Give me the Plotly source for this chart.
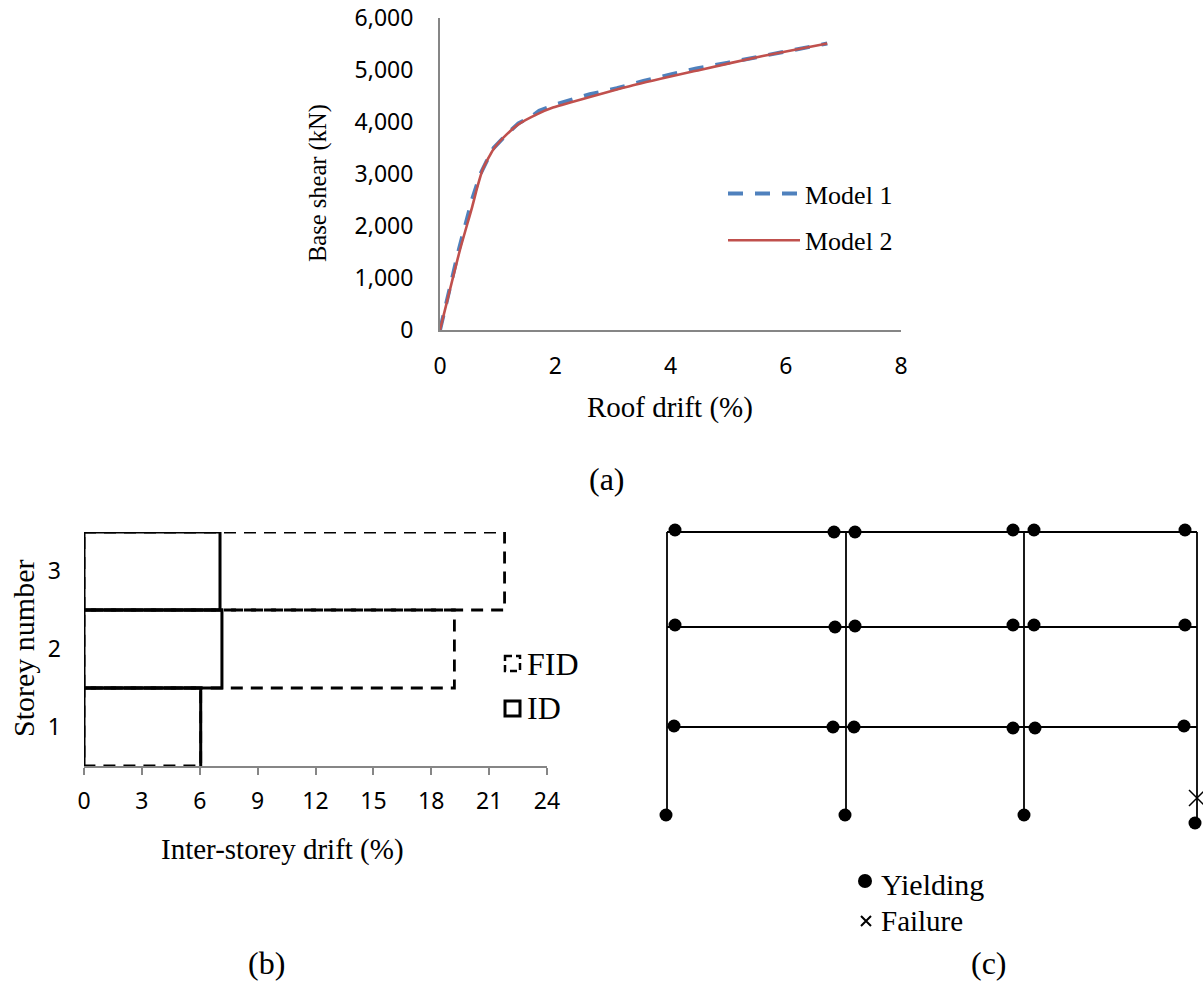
import plotly.graph_objects as go

W, H = 1203, 981
SERIF = "Liberation Serif"
SANS = "Noto Sans"
GREY = "#868686"

# Panel (a): pushover curves
drift_m1 = [0, 0.33, 0.56, 0.70, 0.81, 0.93, 1.186, 1.36, 1.56, 1.72, 2.02, 2.60, 3.07, 3.53, 4.02, 4.45, 5.00, 6.00, 6.72]
shear_m1 = [0, 1560, 2520, 3000, 3248, 3500, 3794, 3975, 4084, 4215, 4341, 4533, 4649, 4790, 4919, 5028, 5140, 5350, 5510]
drift_m2 = [0, 0.347, 0.561, 0.636, 0.74, 0.925, 1.10, 1.36, 1.68, 1.96, 2.26, 3.35, 4.51, 5.60, 6.72]
shear_m2 = [0, 1543, 2379, 2701, 3087, 3473, 3698, 3955, 4148, 4277, 4374, 4707, 5002, 5270, 5510]
drift_ticks = [0, 2, 4, 6, 8]
shear_ticks = [0, 1000, 2000, 3000, 4000, 5000, 6000]

# Panel (b): inter-storey drift
storeys = [1, 2, 3]
id_values = [6.05, 7.15, 7.05]
fid_values = [6.05, 19.2, 21.8]
isd_ticks = [0, 3, 6, 9, 12, 15, 18, 21, 24]

# Panel (c): frame and hinges (bay/storey drawing units)
col_x = [0, 17.9, 35.7, 53.0]
col_base = [0, 0, 0, -0.8]
level_y = [8.8, 18.8, 28.3]
hinge_x = [0.8, 16.7, 18.8, 34.6, 36.7, 51.8,
           0.8, 16.8, 18.8, 34.6, 36.7, 51.8,
           0.7, 16.6, 18.7, 34.6, 36.8, 51.7,
           -0.1, 17.8, 35.7, 52.8]
hinge_y = [28.5, 28.3, 28.3, 28.5, 28.5, 28.5,
           19.0, 18.8, 18.9, 19.0, 19.0, 19.0,
           8.9, 8.8, 8.8, 8.7, 8.7, 8.9,
           0, 0, 0, -0.8]
fail_x = [53.0]
fail_y = [1.7]
key_yield = ([19.8], [-6.6])
key_fail = ([19.9], [-10.6])


def px(x):
    return x / W


def py(y):
    return 1 - y / H


def outline(values, open_bottom=False):
    """Box outline per storey, from the axis out to the value."""
    xs, ys = [], []
    for s, v in zip(storeys, values):
        if open_bottom and s == storeys[0]:
            xs += [0, 0, v, v, None]
            ys += [s - 0.5, s + 0.5, s + 0.5, s - 0.5, None]
        else:
            xs += [0, v, v, 0, 0, None]
            ys += [s + 0.5, s + 0.5, s - 0.5, s - 0.5, s + 0.5, None]
    return xs, ys


fig = go.Figure()

# (a)
fig.add_trace(go.Scatter(x=drift_m1, y=shear_m1, mode="lines", name="Model 1", legendgroup="m1",
                         line=dict(color="#4f81bd", width=4, dash="15px,12px"), xaxis="x", yaxis="y"))
fig.add_trace(go.Scatter(x=drift_m2, y=shear_m2, mode="lines", name="Model 2", legendgroup="m2",
                         line=dict(color="#c0504d", width=2.6, shape="spline", smoothing=0.5), xaxis="x", yaxis="y"))

# (b)
fx, fy = outline(fid_values)
fig.add_trace(go.Scatter(x=fx, y=fy, mode="lines", name="FID", showlegend=False,
                         line=dict(color="black", width=2.8, dash="12px,8px"), xaxis="x2", yaxis="y2"))
ix, iy = outline(id_values, open_bottom=True)
fig.add_trace(go.Scatter(x=ix, y=iy, mode="lines", name="ID", showlegend=False,
                         line=dict(color="black", width=3), xaxis="x2", yaxis="y2"))

# (c)
for x, base in zip(col_x, col_base):
    fig.add_trace(go.Scatter(x=[x, x], y=[base, level_y[-1]], mode="lines", showlegend=False,
                             line=dict(color="black", width=1.8), xaxis="x3", yaxis="y3"))
for y in level_y:
    fig.add_trace(go.Scatter(x=[col_x[0], col_x[-1]], y=[y, y], mode="lines", showlegend=False,
                             line=dict(color="black", width=1.8), xaxis="x3", yaxis="y3"))
fig.add_trace(go.Scatter(x=hinge_x, y=hinge_y, mode="markers", name="Yielding", showlegend=False,
                         marker=dict(color="black", size=13), xaxis="x3", yaxis="y3"))
fig.add_trace(go.Scatter(x=fail_x, y=fail_y, mode="markers", name="Failure", showlegend=False, cliponaxis=False,
                         marker=dict(symbol="x-thin-open", color="black", size=16, line=dict(color="black", width=1.5)),
                         xaxis="x3", yaxis="y3"))
fig.add_trace(go.Scatter(x=key_yield[0], y=key_yield[1], mode="markers", showlegend=False,
                         marker=dict(color="black", size=14), xaxis="x3", yaxis="y3"))
fig.add_trace(go.Scatter(x=key_fail[0], y=key_fail[1], mode="markers", showlegend=False,
                         marker=dict(symbol="x-thin-open", color="black", size=10, line=dict(color="black", width=2)),
                         xaxis="x3", yaxis="y3"))


def note(text, x, y, size=29, angle=0, anchor="center"):
    return dict(text=text, x=px(x), y=py(y), xref="paper", yref="paper", showarrow=False,
                xanchor=anchor, yanchor="middle", textangle=angle,
                font=dict(family=SERIF, size=size, color="black"))


annotations = [
    note("(a)", 607, 479, size=32),
    note("(b)", 266, 963, size=32),
    note("(c)", 989, 963, size=32),
    note("Base shear (kN)", 318, 183, size=24.5, angle=-90),
    note("Roof drift (%)", 670, 407),
    note("Storey number", 23, 649, size=30, angle=-90),
    note("Inter-storey drift (%)", 282, 849),
    note("FID", 525, 664, size=32, anchor="left"),
    note("ID", 525, 708, size=32, anchor="left"),
    note("Yielding", 879, 884, size=30, anchor="left"),
    note("Failure", 879, 921, size=29, anchor="left"),
]

shapes = [
    dict(type="rect", xref="paper", yref="paper", x0=px(505), x1=px(520), y0=py(656), y1=py(671),
         line=dict(color="black", width=2.5, dash="7px,4px")),
    dict(type="rect", xref="paper", yref="paper", x0=px(505), x1=px(520), y0=py(701), y1=py(716),
         line=dict(color="black", width=3)),
]

tickfont = dict(family=SANS, size=23, color="black")

fig.update_layout(
    width=W, height=H, autosize=False,
    margin=dict(l=0, r=0, t=0, b=0),
    paper_bgcolor="white", plot_bgcolor="rgba(0,0,0,0)",
    annotations=annotations, shapes=shapes,
    legend=dict(x=px(723), y=py(170), xanchor="left", yanchor="top", bgcolor="rgba(0,0,0,0)",
                itemwidth=72, tracegroupgap=10, font=dict(family=SERIF, size=26, color="black")),
    xaxis=dict(domain=[px(440), px(901)], range=[0, 8], tickvals=drift_ticks, showgrid=False, zeroline=False,
               showline=True, linecolor=GREY, linewidth=2, ticks="", tickfont=tickfont, ticklabelstandoff=14,
               anchor="y", automargin=False),
    yaxis=dict(domain=[py(330), py(18)], range=[0, 6000], tickvals=shear_ticks, tickformat=",d", showgrid=False,
               zeroline=False, showline=True, linecolor=GREY, linewidth=2, ticks="", tickfont=tickfont,
               ticklabelstandoff=20, anchor="x", automargin=False),
    xaxis2=dict(domain=[px(84), px(547)], range=[0, 24], tickvals=isd_ticks, showgrid=False, zeroline=False,
                showline=True, linecolor=GREY, linewidth=1.5, ticks="outside", ticklen=7, tickcolor=GREY, tickwidth=1.5,
                tickfont=tickfont, ticklabelstandoff=7, anchor="y2", automargin=False),
    yaxis2=dict(domain=[py(766), py(532)], range=[0.5, 3.5], tickvals=storeys, showgrid=False, zeroline=False,
                showline=False, ticks="", tickfont=tickfont, ticklabelstandoff=22, anchor="x2", automargin=False),
    xaxis3=dict(domain=[px(640), 1], range=[-2.7, 53.6], visible=False, anchor="y3", automargin=False),
    yaxis3=dict(domain=[py(950), py(510)], range=[-13.5, 30.5], visible=False, anchor="x3", automargin=False),
)

fig.write_html("out.html", config=dict(displayModeBar=False), post_script="document.body.style.margin='0';")
